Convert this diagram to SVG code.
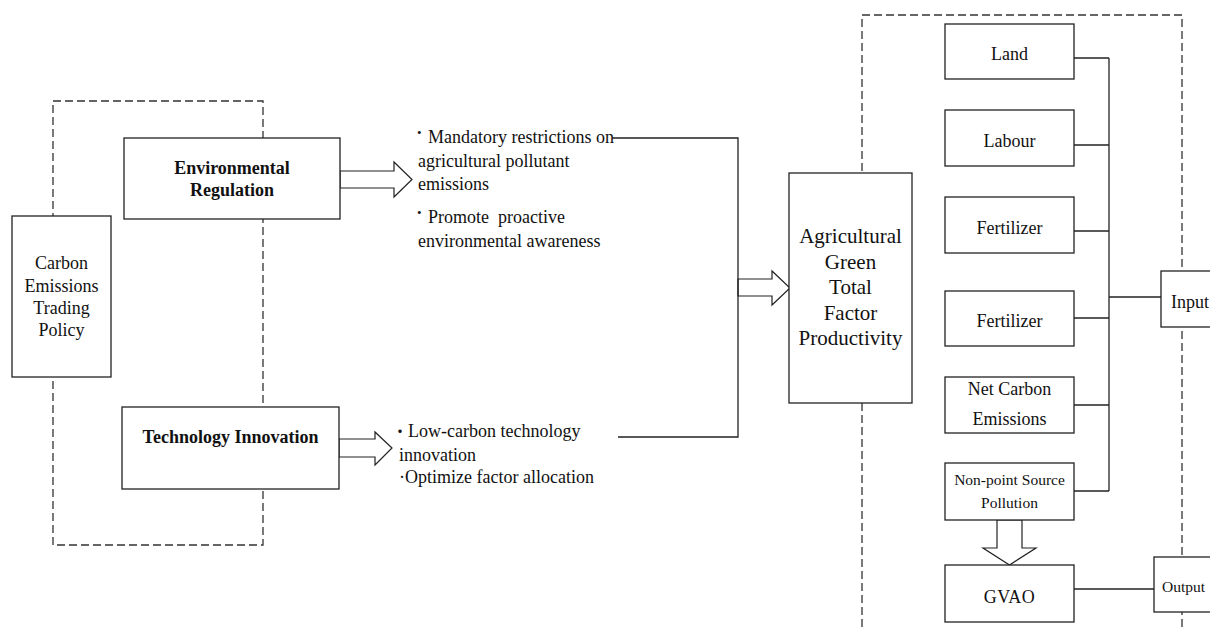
<svg xmlns="http://www.w3.org/2000/svg" width="1210" height="630" viewBox="0 0 1210 630">
<style>
.box{fill:#fff;stroke:#222;stroke-width:1.3}
.dash{fill:none;stroke:#333;stroke-width:1.3;stroke-dasharray:8 4}
.ln{fill:none;stroke:#222;stroke-width:1.3}
.arr{fill:#fff;stroke:#222;stroke-width:1.2;stroke-linejoin:miter}
text{font-family:"Liberation Serif","Times New Roman",serif;fill:#111}
.c{text-anchor:middle}
.t18{font-size:18px}
.b{font-weight:bold}
.bul{font-size:13px}
</style>
<rect width="1210" height="630" fill="#fff"/>
<g id="frames">
<rect class="dash" x="53" y="101" width="210" height="444"/>
<rect class="dash" x="862" y="15" width="320" height="640"/>
</g>
<g id="connectors">
<polygon class="arr" points="340,171 394,171 394,162 412,179.5 394,197 394,188 340,188"/>
<polygon class="arr" points="339,439 375,439 375,432 392,448 375,465 375,457 339,457"/>
<polygon class="arr" points="738,279 772,279 772,271 790,288 772,305 772,296 738,296"/>
<polygon class="arr" points="997,520 997,548 983,548 1009.5,565 1036,548 1022,548 1022,520"/>
<polyline class="ln" points="612,138 738,138 738,437 618,437"/>
<line class="ln" x1="1109" y1="58" x2="1109" y2="491"/>
<line class="ln" x1="1074" y1="58" x2="1109" y2="58"/>
<line class="ln" x1="1074" y1="145" x2="1109" y2="145"/>
<line class="ln" x1="1074" y1="231" x2="1109" y2="231"/>
<line class="ln" x1="1074" y1="318" x2="1109" y2="318"/>
<line class="ln" x1="1074" y1="405" x2="1109" y2="405"/>
<line class="ln" x1="1074" y1="491" x2="1109" y2="491"/>
<line class="ln" x1="1109" y1="297" x2="1161" y2="297"/>
<line class="ln" x1="1074" y1="589" x2="1154" y2="589"/>
</g>
<g id="carbon">
<rect class="box" x="12" y="216" width="99" height="161"/>
<text class="c t18" x="61.5" y="269">Carbon</text>
<text class="c t18" x="61.5" y="292">Emissions</text>
<text class="c t18" x="61.5" y="314">Trading</text>
<text class="c t18" x="61.5" y="336">Policy</text>
</g>
<g id="env">
<rect class="box" x="124" y="138" width="216" height="81"/>
<text class="c t18 b" x="232" y="174">Environmental</text>
<text class="c t18 b" x="232" y="196">Regulation</text>
</g>
<g id="tech">
<rect class="box" x="122" y="407" width="217" height="82"/>
<text class="c t18 b" x="230.5" y="443">Technology Innovation</text>
</g>
<g id="env-effects">
<text class="bul" x="417" y="137">•</text>
<text class="t18" x="428" y="143">Mandatory restrictions on</text>
<text class="t18" x="418" y="167">agricultural pollutant</text>
<text class="t18" x="418" y="190">emissions</text>
<text class="bul" x="417" y="217">•</text>
<text class="t18" x="428" y="223">Promote&#160; proactive</text>
<text class="t18" x="418" y="247">environmental awareness</text>
</g>
<g id="tech-effects">
<text class="t18" x="392" y="437"><tspan style="font-family:'Noto Sans CJK JP',sans-serif;font-size:16px">・</tspan>Low-carbon technology</text>
<text class="t18" x="399" y="461">innovation</text>
<text class="t18" x="399" y="483">·Optimize factor allocation</text>
</g>
<g id="agtfp">
<rect class="box" x="789" y="173" width="123" height="230"/>
<text class="c" style="font-size:21px" x="850.5" y="243">Agricultural</text>
<text class="c" style="font-size:21px" x="850.5" y="269">Green</text>
<text class="c" style="font-size:21px" x="850.5" y="294">Total</text>
<text class="c" style="font-size:21px" x="850.5" y="320">Factor</text>
<text class="c" style="font-size:21px" x="850.5" y="345">Productivity</text>
</g>
<g id="land">
<rect class="box" x="945" y="24" width="129" height="55"/>
<text class="c t18" x="1009.5" y="60">Land</text>
</g>
<g id="labour">
<rect class="box" x="945" y="110" width="129" height="56"/>
<text class="c t18" x="1009.5" y="147">Labour</text>
</g>
<g id="fertilizer1">
<rect class="box" x="945" y="197" width="129" height="56"/>
<text class="c t18" x="1009.5" y="234">Fertilizer</text>
</g>
<g id="fertilizer2">
<rect class="box" x="945" y="291" width="129" height="55"/>
<text class="c t18" x="1009.5" y="327">Fertilizer</text>
</g>
<g id="netcarbon">
<rect class="box" x="945" y="377" width="129" height="56"/>
<text class="c t18" x="1009.5" y="395">Net Carbon</text>
<text class="c t18" x="1009.5" y="425">Emissions</text>
</g>
<g id="nonpoint">
<rect class="box" x="945" y="463" width="129" height="57"/>
<text class="c" style="font-size:15.5px" x="1009.5" y="485">Non-point Source</text>
<text class="c" style="font-size:15.5px" x="1009.5" y="508">Pollution</text>
</g>
<g id="gvao">
<rect class="box" x="945" y="565" width="129" height="57"/>
<text class="c t18" x="1009.5" y="603" letter-spacing="0.5">GVAO</text>
</g>
<g id="input">
<rect class="box" x="1161" y="271" width="70" height="56"/>
<text class="t18" x="1171" y="308">Input</text>
</g>
<g id="output">
<rect class="box" x="1154" y="557" width="70" height="55"/>
<text x="1162" y="592" style="font-size:15.5px">Output</text>
</g>
</svg>
